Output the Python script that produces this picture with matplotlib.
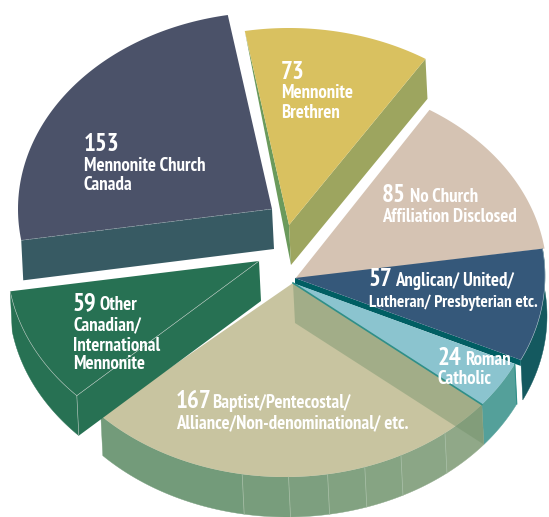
import numpy as np
import matplotlib
matplotlib.use('Agg')
import matplotlib.pyplot as plt
from matplotlib import font_manager as fm

# values in reading order, clockwise from the top of the No Church slice
categories = ['No Church', 'Anglican', 'Roman Catholic', 'Baptist', 'Other Mennonite', 'MC Canada', 'MB']
values = [85, 57, 24, 167, 59, 153, 73]

# where the fold lines sit on the Baptist rim, as a share of its arc
baptist_folds = [0.378, 0.486, 0.577, 0.666, 0.757, 0.879]

# pie geometry in image pixels
CX, CY = 292, 282
RX, RY = 254, 197
DEPTH = 40
SKEW = 0.05
START = 57.5

arc_off = [(1, -6), (-1, -6), (-7, -2), (-7, -2), (-31, -22), (-20, -73), (-3, -57)]
apex_off = [(3, -3), (3, -4), (1, 1), (1, 1), (-33, -21), (-20, -73), (-3, -57)]
top_colors = ['#d5c3b3', '#35587a', '#8bc4cf', '#c8c4a0', '#277153', '#4b5269', '#d9c160']
rim_colors = ['#d5c3b3', '#14595f', '#54a09a', '#739b7a', '#277153', '#375a63', '#6b9a5c']
LINE = '#b8c8c0'

total = sum(values)
bounds = START - np.cumsum([0] + values) * 360 / total


def pt(deg, i, drop=0):
    a = np.radians(deg)
    return (CX + arc_off[i][0] + RX * np.cos(a) + drop * SKEW,
            CY + arc_off[i][1] - RY * np.sin(a) + drop)


def apex(i, drop=0):
    return CX + apex_off[i][0] + drop * SKEW, CY + apex_off[i][1] + drop


def top_face(ax, i, z):
    xs, ys = pt(np.linspace(bounds[i], bounds[i + 1], 80), i)
    ax_, ay = apex(i)
    ax.fill(list(xs) + [ax_], list(ys) + [ay], color=top_colors[i], lw=0, zorder=z)


def rim(ax, i, color, z, a0=None, a1=None):
    a0 = bounds[i] if a0 is None else a0
    a1 = bounds[i + 1] if a1 is None else a1
    t = np.linspace(a0, a1, 40)
    x0, y0 = pt(t, i)
    x1, y1 = pt(t, i, drop=DEPTH)
    ax.fill(list(x0) + list(x1[::-1]), list(y0) + list(y1[::-1]), color=color, lw=0.3, zorder=z)


def cut(ax, i, deg, color, z, alpha=1.0):
    # flat cut face between centre and rim, hanging down by DEPTH
    x0, y0 = pt(deg, i)
    x1, y1 = pt(deg, i, DEPTH)
    a0, b0 = apex(i)
    a1, b1 = apex(i, DEPTH)
    ax.fill([a0, x0, x1, a1], [b0, y0, y1, b1], color=color, lw=0, zorder=z, alpha=alpha)


fig = plt.figure(figsize=(5.49, 5.17), dpi=100)
ax = fig.add_axes([0, 0, 1, 1])
ax.set_xlim(0, 549)
ax.set_ylim(517, 0)
ax.axis('off')

# No Church
top_face(ax, 0, 2)

# Anglican: outer rim, thin dark cut strip, then top
rim(ax, 1, rim_colors[1], 3)
a0, b0 = apex(1)
ex, ey = pt(bounds[2], 1)
ax.fill([a0, ex, ex, a0], [b0, ey, ey + 6, b0 + 6], color='#005e63', lw=0, zorder=3)
top_face(ax, 1, 4)
xs, ys = pt(np.linspace(bounds[1], bounds[2], 40), 1)
ax.plot(xs, ys, color='#a8bcc8', lw=0.4, zorder=5)

# Roman Catholic
rim(ax, 2, rim_colors[2], 5)
top_face(ax, 2, 6)
a0, b0 = apex(2)
ex, ey = pt(bounds[3], 2)
ax.plot([a0, ex], [b0, ey], color='#2f8f88', lw=1.2, zorder=9)
ex, ey = pt(bounds[2], 2)
ax.plot([ex, ex + DEPTH * SKEW], [ey, ey + DEPTH], color='#2f8f88', lw=0.8, zorder=7)

# Baptist: faceted rim, top, see-through cut face across it
edges = [0] + baptist_folds + [1]
c0 = np.array(matplotlib.colors.to_rgb('#739b7a'))
c1 = np.array(matplotlib.colors.to_rgb('#90a888'))
for k in range(len(edges) - 1):
    t0 = bounds[4] + (bounds[3] - bounds[4]) * edges[k]
    t1 = bounds[4] + (bounds[3] - bounds[4]) * edges[k + 1]
    rim(ax, 3, tuple(c0 + (c1 - c0) * k / (len(edges) - 2)), 5, t0, t1)
top_face(ax, 3, 6)
cut(ax, 3, bounds[3], '#6f8f68', 8, alpha=0.42)
for frac in baptist_folds:
    deg = bounds[4] + (bounds[3] - bounds[4]) * frac
    x0, y0 = pt(deg, 3)
    x1, y1 = pt(deg, 3, DEPTH)
    ax.plot([x0, x1], [y0, y1], color='#a9c0a8', lw=0.5, zorder=7)

# Other Mennonite: one flat green with thin fold lines
rim(ax, 4, rim_colors[4], 7)
cut(ax, 4, bounds[4], rim_colors[4], 7)
top_face(ax, 4, 7)
xs, ys = pt(np.linspace(bounds[4], bounds[5], 40), 4)
ax.plot(xs, ys, color=LINE, lw=0.4, zorder=8)
x0, y0 = pt(bounds[4], 4)
x1, y1 = pt(bounds[4], 4, DEPTH)
a0, b0 = apex(4)
ax.plot([a0, x0], [b0, y0], color=LINE, lw=0.4, zorder=8)
ax.plot([x0, x1], [y0, y1], color=LINE, lw=0.4, zorder=8)

# MC Canada: top plus left cut face only
cut(ax, 5, bounds[5], rim_colors[5], 7)
top_face(ax, 5, 8)
x0, y0 = pt(bounds[5], 5)
a0, b0 = apex(5)
ax.plot([x0, a0], [y0, b0], color='#8fa3a8', lw=0.4, ls=(0, (6, 2)), zorder=9)

# MB: two cut faces, then the top
x0, y0 = pt(bounds[6], 6)
a0, b0 = apex(6)
a1, b1 = apex(6, DEPTH)
ax.fill([x0, a0, a1], [y0, b0, b1], color=rim_colors[6], lw=0, zorder=7)
cut(ax, 6, bounds[7], '#9da55f', 7)
top_face(ax, 6, 8)

# labels
FONT = ['PT Sans Narrow', 'Fira Sans Condensed', 'Open Sans', 'DejaVu Sans']
have_narrow = any(f.name in FONT[:2] for f in fm.fontManager.ttflist)
num_size, text_size = (18, 13.5) if have_narrow else (14, 9.5)
num_labels = [('153', 84, 151), ('73', 281, 79), ('85', 382, 202), ('57', 369, 286),
              ('24', 438, 365), ('59', 73, 310), ('167', 176, 408)]
text_labels = [('Mennonite Church', 84, 171), ('Canada', 84, 190),
               ('Mennonite', 281, 98), ('Brethren', 281, 118),
               ('No Church', 410, 202), ('Affiliation Disclosed', 382, 222),
               ('Anglican/ United/', 395, 286), ('Lutheran/ Presbyterian etc.', 369, 307),
               ('Roman', 465, 365), ('Catholic', 438, 384),
               ('Other', 99, 310), ('Canadian/', 73, 330), ('International', 73, 351), ('Mennonite', 73, 369),
               ('Baptist/Pentecostal/', 212, 408), ('Alliance/Non-denominational/ etc.', 176, 428)]
for s, x, y in num_labels:
    ax.text(x, y, s, color='white', fontsize=num_size, fontweight='bold', family=FONT, va='baseline', ha='left', zorder=20)
for s, x, y in text_labels:
    # the long Lutheran line has to stay inside the slice
    size = text_size * 0.93 if s.startswith('Lutheran') else text_size
    ax.text(x, y, s, color='white', fontsize=size, fontweight='bold', family=FONT, va='baseline', ha='left', zorder=20)

plt.savefig('out.png', dpi=100)
plt.close()
